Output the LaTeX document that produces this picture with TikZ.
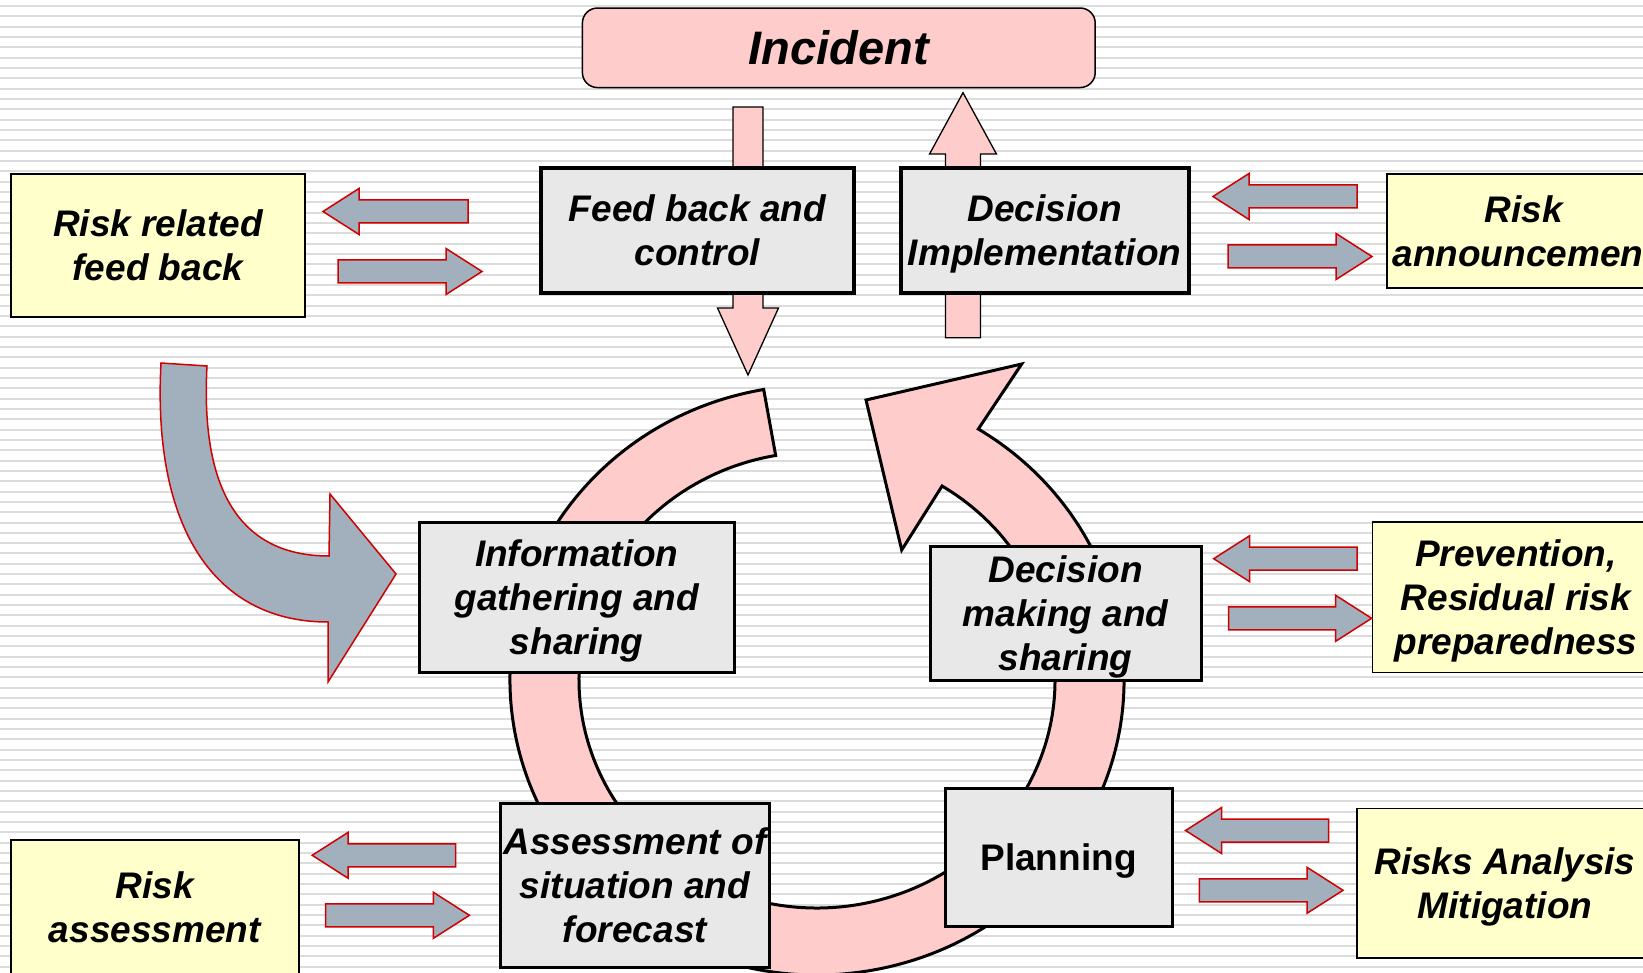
\documentclass[tikz,border=0pt]{standalone}
\usepackage{fontspec}
\setmainfont{Liberation Sans}
\usetikzlibrary{calc}

\definecolor{pinkfill}{HTML}{FFCCCC}
\definecolor{boxgray}{HTML}{E8E8E8}
\definecolor{notefill}{HTML}{FFFFCC}
\definecolor{steelfill}{HTML}{A2B0BE}
\definecolor{arrowred}{HTML}{D00000}
\definecolor{stripegray}{HTML}{DCDCDC}

% last line of a label: keep its descenders out of the vertical centring
\newcommand\lastline[1]{\raisebox{0pt}[\height][0pt]{#1}}

% block arrow: {style}{from}{to}{shaft half width}{head half width}{head length}
\newcommand\blockarrow[6]{%
  \coordinate (bahead) at ($(#3)!#6!(#2)$);
  \draw[#1] ($(#2)!#4!90:(#3)$) -- ($(bahead)!#4!90:(#3)$)
    -- ($(bahead)!#5!90:(#3)$) -- (#3) -- ($(bahead)!#5!-90:(#3)$)
    -- ($(bahead)!#4!-90:(#3)$) -- ($(#2)!#4!-90:(#3)$) -- cycle;}

\tikzset{
  lbl/.style={font=\fontsize{37}{44}\selectfont\bfseries\itshape,
    align=center, inner sep=0pt, text=black},
  keystep/.style={lbl, rectangle, draw=black, fill=boxgray, line width=4pt},
  procstep/.style={lbl, rectangle, draw=black, fill=boxgray, line width=3pt},
  notebox/.style={lbl, rectangle, draw=black, fill=notefill, line width=1.6pt},
  incbox/.style={rectangle, rounded corners=15pt, draw=black, fill=pinkfill,
    line width=1.5pt, inner sep=0pt, align=center,
    font=\fontsize{47}{56}\selectfont\bfseries\itshape},
  pinkarrow/.style={draw=black, fill=pinkfill, line width=1.3pt},
  steelarrow/.style={draw=arrowred, fill=steelfill, line width=1.5pt},
  ringarrow/.style={draw=black, fill=pinkfill, line width=3pt},
  stripe/.style={draw=stripegray, line width=2pt},
}

\begin{document}
\begin{tikzpicture}[x=1pt, y=-1pt]
\useasboundingbox (0,0) rectangle (1643,973);
\clip (0,0) rectangle (1643,973);

% striped background
\fill[white] (0,0) rectangle (1643,973);
\foreach \k in {0,...,93}
  \draw[stripe] (0,{6+10.33*\k}) -- (1643,{6+10.33*\k});

% cycle arrow round the four process steps
\coordinate (rc) at (817,680);
\draw[ringarrow] ($(rc)+(260:307 and 295)$)
  arc[start angle=260, end angle=-58.3, x radius=307, y radius=295]
  -- (1021.7,364) -- (866,400) -- (901.7,550)
  -- ($(rc)+(-58.3:238 and 228)$)
  arc[start angle=-58.3, end angle=260, x radius=238, y radius=228]
  -- cycle;

% incident in and out
\coordinate (fbtop) at (748,107);
\coordinate (fbtip) at (748,375);
\coordinate (dibase) at (963,337.7);
\coordinate (ditip) at (963,92.7);
\blockarrow{pinkarrow}{fbtop}{fbtip}{15pt}{30.5pt}{67pt}
\blockarrow{pinkarrow}{dibase}{ditip}{17.5pt}{33.5pt}{61.4pt}

% boxes
\node[incbox, minimum width=512.8pt, minimum height=79.5pt] (incident)
  at (838.8,47.8) {\lastline{Incident}};
\node[keystep, minimum width=312.5pt, minimum height=125.3pt] (feedback)
  at (697.5,230.3) {Feed back and\\\lastline{control}};
\node[keystep, minimum width=287.9pt, minimum height=125.3pt] (implement)
  at (1044.6,230.3) {Decision\\\lastline{Implementation}};
\node[notebox, minimum width=294.4pt, minimum height=142.8pt] (riskfb)
  at (158,245.5) {Risk related\\\lastline{feed back}};
\node[notebox, minimum width=274.4pt, minimum height=114.1pt] (announce)
  at (1524,231.2) {Risk\\\lastline{announcement}};
\node[procstep, minimum width=314.9pt, minimum height=150.3pt] (info)
  at (576.75,597.35) {Information\\gathering and\\\lastline{sharing}};
\node[procstep, minimum width=271.2pt, minimum height=133.7pt] (decide)
  at (1065.6,613.35) {Decision\\making and\\\lastline{sharing}};
\node[notebox, minimum width=287.2pt, minimum height=150.7pt] (prevent)
  at (1516,597.2) {Prevention,\\Residual risk\\\lastline{preparedness}};
\node[procstep, minimum width=269.9pt, minimum height=164.6pt] (assess)
  at (634.95,885.5) {Assessment of\\situation and\\\lastline{forecast}};
\node[procstep, minimum width=227pt, minimum height=138pt] (plan)
  at (1058.5,857.2) {\upshape\lastline{Planning}};
\node[notebox, minimum width=296pt, minimum height=149.7pt] (analysis)
  at (1505,883.35) {Risks Analysis\\\lastline{Mitigation}};
\node[notebox, minimum width=287.7pt, minimum height=134.1pt] (riskass)
  at (154.85,907.15) {Risk\\\lastline{assessment}};

% exchange arrows between the side boxes and the steps
\coordinate (fbOutS) at (468,211.5);    \coordinate (fbOutE) at (323,211.5);
\coordinate (fbInS)  at (338,271.5);    \coordinate (fbInE)  at (482,271.5);
\coordinate (anInS)  at (1357,196.5);   \coordinate (anInE)  at (1213,196.5);
\coordinate (anOutS) at (1228,256.5);   \coordinate (anOutE) at (1372,256.5);
\coordinate (prInS)  at (1357,558.7);   \coordinate (prInE)  at (1213.7,558.7);
\coordinate (prOutS) at (1228.5,618.3); \coordinate (prOutE) at (1371.6,618.3);
\coordinate (maInS)  at (1328.7,830.5); \coordinate (maInE)  at (1185.6,830.5);
\coordinate (maOutS) at (1199.4,890.3); \coordinate (maOutE) at (1343,890.3);
\coordinate (raOutS) at (455.6,855.3);  \coordinate (raOutE) at (312.2,855.3);
\coordinate (raInS)  at (325.5,915.3);  \coordinate (raInE)  at (469.4,915.3);
\foreach \s/\e in {fbOutS/fbOutE, fbInS/fbInE, anInS/anInE, anOutS/anOutE,
                   prInS/prInE, prOutS/prOutE, maInS/maInE, maOutS/maOutE,
                   raOutS/raOutE, raInS/raInE}
  {\blockarrow{steelarrow}{\s}{\e}{11.5pt}{23pt}{36pt}}

% curved feed-back arrow into information gathering
\draw[steelarrow] (207,366) .. controls (200,496) and (244,556) .. (329,556)
  -- (330,494) -- (396,574) -- (328,682) -- (328,622)
  .. controls (218,622) and (152,533) .. (161,363) -- cycle;
\end{tikzpicture}
\end{document}
